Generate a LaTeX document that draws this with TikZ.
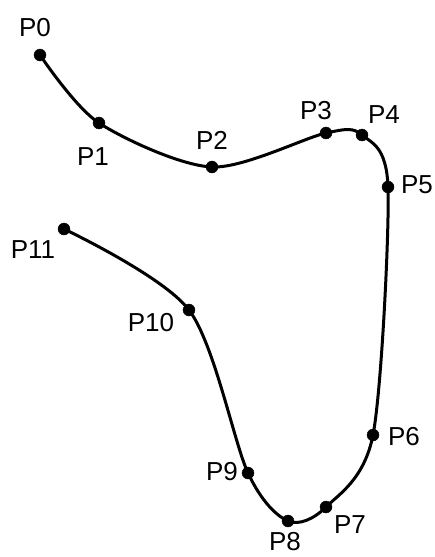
\documentclass[tikz,border=0pt]{standalone}
\usepackage{fontspec}
\setmainfont{Liberation Sans}
\usepackage{tikz}

\tikzset{
  pt/.style={draw,fill=black,shape=circle,inner sep=0pt,minimum size=12pt},
  lab/.style={font=\fontsize{26}{26}\selectfont,inner sep=0pt}
}

\begin{document}
\begin{tikzpicture}[x=1pt,y=-1pt]
		\useasboundingbox (0,0) rectangle (434,557);
		\draw (40,55) 	node (p0) [pt] {};
		\draw (99,123) 	node (p1) [pt] {};
		\draw (212,167) node (p2) [pt] {};
		\draw (326,133) node (p3) [pt] {};
		\draw (362,135) node (p4) [pt] {};
		\draw (388,187) node (p5) [pt] {};
		\draw (373,435) node (p6) [pt] {};
		\draw (326,507) node (p7) [pt] {};
		\draw (288,521) node (p8) [pt] {};
		\draw (248,473) node (p9) [pt] {};
		\draw (189,310) node (p10) [pt] {};
		\draw (64,229) 	node (p11) [pt] {};
		% labels
		\draw (35,28) 	node (l0) [lab] {P0};
		\draw (93,157) 	node (l1) [lab] {P1};
		\draw (212,140) node (l2) [lab] {P2};
		\draw (316,111) node (l3) [lab] {P3};
		\draw (384,115) node (l4) [lab] {P4};
		\draw (417,185) node (l5) [lab] {P5};
		\draw (404,437) node (l6) [lab] {P6};
		\draw (350,525) node (l7) [lab] {P7};
		\draw (285,542) node (l8) [lab] {P8};
		\draw (222,472) node (l9) [lab] {P9};
		\draw (151,323) node (l10) [lab] {P10};
		\draw (33,250) 	node (l11) [lab] {P11};
		% curve
		\draw [line width=3pt] plot [smooth,tension=0.5] coordinates {(p0.center) (p1.center) (p2.center) (p3.center) (p4.center) (p5.center) (p6.center) (p7.center) (p8.center) (p9.center) (p10.center) (p11.center)};
	\end{tikzpicture}
\end{document}
